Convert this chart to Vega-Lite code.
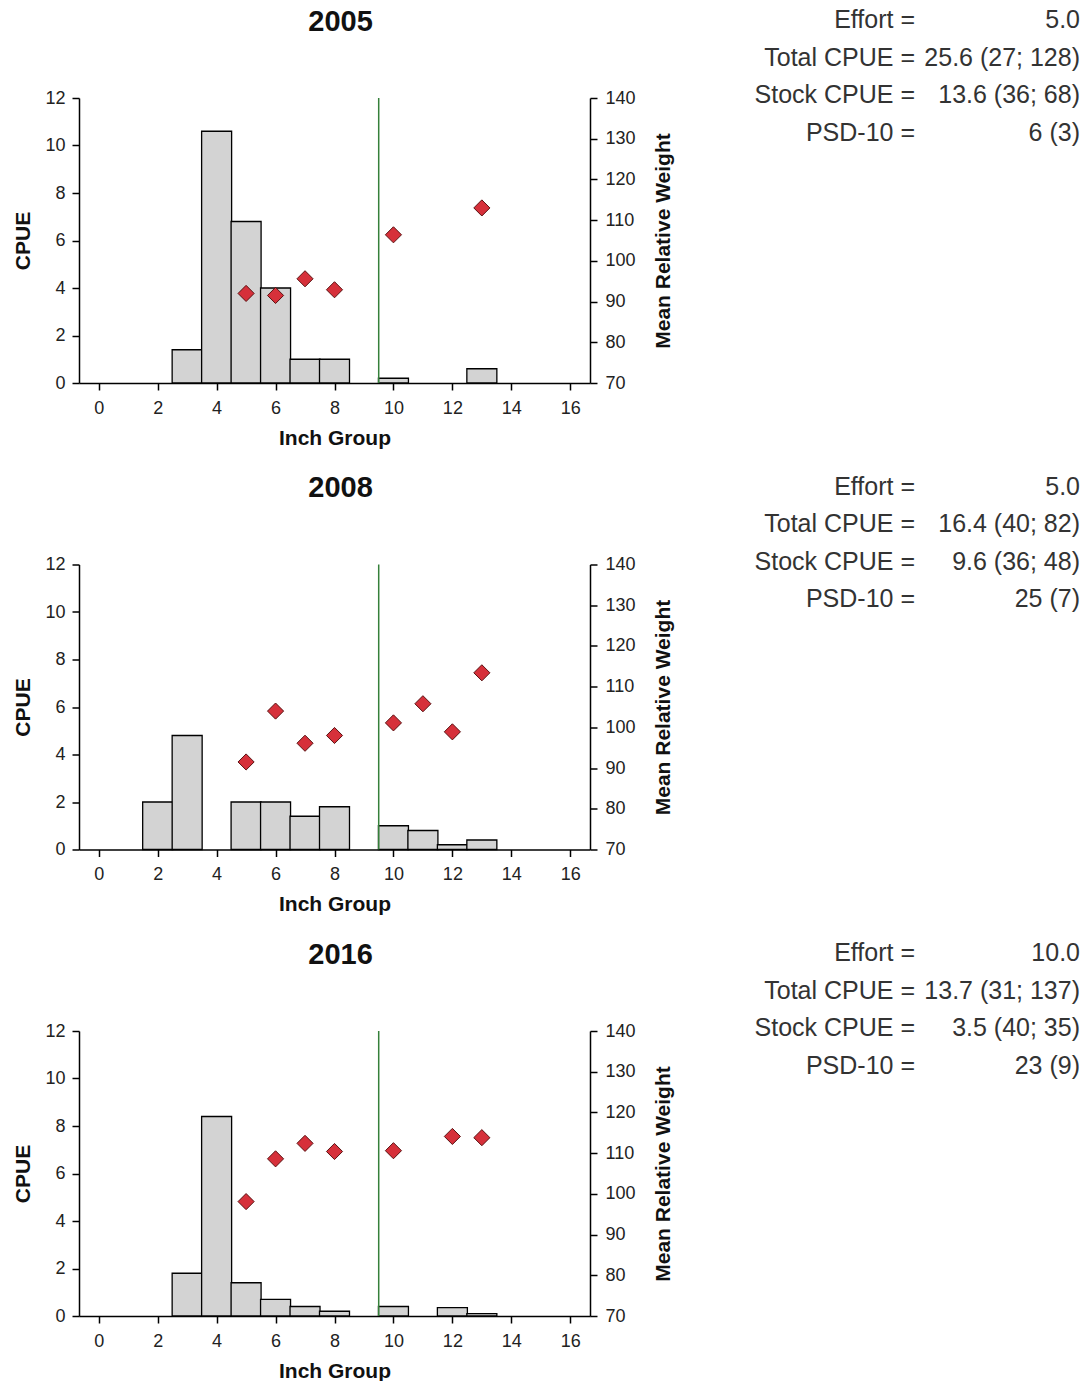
{
  "$schema": "https://vega.github.io/schema/vega-lite/v6.json",
  "background": "white",
  "padding": {"left": 12, "top": 6.5, "right": 0, "bottom": 0},
  "datasets": {
    "bars": [
      {"year": 2005, "inch": 3, "cpue": 1.4},
      {"year": 2005, "inch": 4, "cpue": 10.6},
      {"year": 2005, "inch": 5, "cpue": 6.8},
      {"year": 2005, "inch": 6, "cpue": 4.0},
      {"year": 2005, "inch": 7, "cpue": 1.0},
      {"year": 2005, "inch": 8, "cpue": 1.0},
      {"year": 2005, "inch": 10, "cpue": 0.2},
      {"year": 2005, "inch": 13, "cpue": 0.6},
      {"year": 2008, "inch": 2, "cpue": 2.0},
      {"year": 2008, "inch": 3, "cpue": 4.8},
      {"year": 2008, "inch": 5, "cpue": 2.0},
      {"year": 2008, "inch": 6, "cpue": 2.0},
      {"year": 2008, "inch": 7, "cpue": 1.4},
      {"year": 2008, "inch": 8, "cpue": 1.8},
      {"year": 2008, "inch": 10, "cpue": 1.0},
      {"year": 2008, "inch": 11, "cpue": 0.8},
      {"year": 2008, "inch": 12, "cpue": 0.2},
      {"year": 2008, "inch": 13, "cpue": 0.4},
      {"year": 2016, "inch": 3, "cpue": 1.8},
      {"year": 2016, "inch": 4, "cpue": 8.4},
      {"year": 2016, "inch": 5, "cpue": 1.4},
      {"year": 2016, "inch": 6, "cpue": 0.7},
      {"year": 2016, "inch": 7, "cpue": 0.4},
      {"year": 2016, "inch": 8, "cpue": 0.2},
      {"year": 2016, "inch": 10, "cpue": 0.4},
      {"year": 2016, "inch": 12, "cpue": 0.35},
      {"year": 2016, "inch": 13, "cpue": 0.1}
    ],
    "weights": [
      {"year": 2005, "inch": 5, "weight": 92.0},
      {"year": 2005, "inch": 6, "weight": 91.5},
      {"year": 2005, "inch": 7, "weight": 95.6},
      {"year": 2005, "inch": 8, "weight": 92.9},
      {"year": 2005, "inch": 10, "weight": 106.4},
      {"year": 2005, "inch": 13, "weight": 113.0},
      {"year": 2008, "inch": 5, "weight": 91.5},
      {"year": 2008, "inch": 6, "weight": 104.0},
      {"year": 2008, "inch": 7, "weight": 96.1},
      {"year": 2008, "inch": 8, "weight": 98.0},
      {"year": 2008, "inch": 10, "weight": 101.1},
      {"year": 2008, "inch": 11, "weight": 105.8},
      {"year": 2008, "inch": 12, "weight": 98.9},
      {"year": 2008, "inch": 13, "weight": 113.4},
      {"year": 2016, "inch": 5, "weight": 98.1},
      {"year": 2016, "inch": 6, "weight": 108.6},
      {"year": 2016, "inch": 7, "weight": 112.4},
      {"year": 2016, "inch": 8, "weight": 110.4},
      {"year": 2016, "inch": 10, "weight": 110.6},
      {"year": 2016, "inch": 12, "weight": 114.1},
      {"year": 2016, "inch": 13, "weight": 113.8}
    ],
    "stats": [
      {"year": 2005, "label": "Effort =", "value": "5.0"},
      {"year": 2005, "label": "Total CPUE =", "value": "25.6 (27; 128)"},
      {"year": 2005, "label": "Stock CPUE =", "value": "13.6 (36; 68)"},
      {"year": 2005, "label": "PSD-10 =", "value": "6 (3)"},
      {"year": 2008, "label": "Effort =", "value": "5.0"},
      {"year": 2008, "label": "Total CPUE =", "value": "16.4 (40; 82)"},
      {"year": 2008, "label": "Stock CPUE =", "value": "9.6 (36; 48)"},
      {"year": 2008, "label": "PSD-10 =", "value": "25 (7)"},
      {"year": 2016, "label": "Effort =", "value": "10.0"},
      {"year": 2016, "label": "Total CPUE =", "value": "13.7 (31; 137)"},
      {"year": 2016, "label": "Stock CPUE =", "value": "3.5 (40; 35)"},
      {"year": 2016, "label": "PSD-10 =", "value": "23 (9)"}
    ],
    "panels": [{"year": 2005}, {"year": 2008}, {"year": 2016}],
    "ref": [{"inch": 9.5}]
  },
  "vconcat": [
    {
      "spacing": 80,
      "hconcat": [
        {
          "spacing": 52.5,
          "vconcat": [
            {
              "width": 511, "height": 30,
              "data": {"name": "panels"}, "transform": [{"filter": "datum.year == 2005"}],
              "mark": {"type": "text", "align": "center", "baseline": "middle", "fontSize": 29, "fontWeight": "bold", "color": "#111", "dx": 6},
              "encoding": {"text": {"field": "year", "type": "nominal"}}
            },
            {
              "width": 511, "height": 285,
              "layer": [
                {"data": {"name": "bars"}, "transform": [{"filter": "datum.year == 2005"}],
                 "mark": {"type": "bar", "width": 30, "fill": "#d3d3d3", "stroke": "#000", "strokeWidth": 1.3},
                 "encoding": {
                   "x": {"field": "inch", "type": "quantitative", "scale": {"domain": [-0.5, 16.5], "nice": false, "zero": false}, "axis": {"title": "Inch Group", "values": [0, 2, 4, 6, 8, 10, 12, 14, 16], "labelFlush": false, "labelPadding": 9}},
                   "y": {"field": "cpue", "type": "quantitative", "scale": {"domain": [0, 12], "nice": false}, "axis": {"orient": "left", "title": "CPUE", "values": [0, 2, 4, 6, 8, 10, 12], "labelPadding": 7, "titlePadding": 11}}}},
                {"data": {"name": "ref"}, "mark": {"type": "rule", "color": "#35803a", "strokeWidth": 1.5},
                 "encoding": {"x": {"field": "inch", "type": "quantitative"}}},
                {"data": {"name": "weights"}, "transform": [{"filter": "datum.year == 2005"}],
                 "mark": {"type": "point", "shape": "diamond", "filled": true, "size": 260, "fill": "#d6303a", "stroke": "#5a1212", "strokeWidth": 1, "opacity": 1},
                 "encoding": {
                   "x": {"field": "inch", "type": "quantitative"},
                   "y": {"field": "weight", "type": "quantitative", "scale": {"domain": [70, 140], "nice": false, "zero": false}, "axis": {"orient": "right", "title": "Mean Relative Weight", "values": [70, 80, 90, 100, 110, 120, 130, 140], "titleAngle": 270, "titleBaseline": "top", "labelPadding": 8, "titlePadding": 17.5}}}}
              ],
              "resolve": {"scale": {"y": "independent"}, "axis": {"y": "independent"}}
            }
          ]
        },
        {
          "width": 165, "height": 139.5,
          "data": {"name": "stats"}, "transform": [{"filter": "datum.year == 2005"}],
          "encoding": {"y": {"field": "label", "type": "nominal", "sort": null, "scale": {"type": "point", "padding": 0.36}, "axis": null}},
          "layer": [
            {"mark": {"type": "text", "align": "right", "baseline": "middle", "fontSize": 25, "color": "#333"},
             "encoding": {"x": {"datum": "label", "type": "nominal", "scale": {"type": "point", "domain": ["label", "value"], "padding": 0}, "axis": null}, "text": {"field": "label"}}},
            {"mark": {"type": "text", "align": "right", "baseline": "middle", "fontSize": 25, "color": "#333"},
             "encoding": {"x": {"datum": "value", "type": "nominal"}, "text": {"field": "value"}}}
          ]
        }
      ]
    },
    {
      "spacing": 80,
      "hconcat": [
        {
          "spacing": 52.5,
          "vconcat": [
            {
              "width": 511, "height": 30,
              "data": {"name": "panels"}, "transform": [{"filter": "datum.year == 2008"}],
              "mark": {"type": "text", "align": "center", "baseline": "middle", "fontSize": 29, "fontWeight": "bold", "color": "#111", "dx": 6},
              "encoding": {"text": {"field": "year", "type": "nominal"}}
            },
            {
              "width": 511, "height": 285,
              "layer": [
                {"data": {"name": "bars"}, "transform": [{"filter": "datum.year == 2008"}],
                 "mark": {"type": "bar", "width": 30, "fill": "#d3d3d3", "stroke": "#000", "strokeWidth": 1.3},
                 "encoding": {
                   "x": {"field": "inch", "type": "quantitative", "scale": {"domain": [-0.5, 16.5], "nice": false, "zero": false}, "axis": {"title": "Inch Group", "values": [0, 2, 4, 6, 8, 10, 12, 14, 16], "labelFlush": false, "labelPadding": 9}},
                   "y": {"field": "cpue", "type": "quantitative", "scale": {"domain": [0, 12], "nice": false}, "axis": {"orient": "left", "title": "CPUE", "values": [0, 2, 4, 6, 8, 10, 12], "labelPadding": 7, "titlePadding": 11}}}},
                {"data": {"name": "ref"}, "mark": {"type": "rule", "color": "#35803a", "strokeWidth": 1.5},
                 "encoding": {"x": {"field": "inch", "type": "quantitative"}}},
                {"data": {"name": "weights"}, "transform": [{"filter": "datum.year == 2008"}],
                 "mark": {"type": "point", "shape": "diamond", "filled": true, "size": 260, "fill": "#d6303a", "stroke": "#5a1212", "strokeWidth": 1, "opacity": 1},
                 "encoding": {
                   "x": {"field": "inch", "type": "quantitative"},
                   "y": {"field": "weight", "type": "quantitative", "scale": {"domain": [70, 140], "nice": false, "zero": false}, "axis": {"orient": "right", "title": "Mean Relative Weight", "values": [70, 80, 90, 100, 110, 120, 130, 140], "titleAngle": 270, "titleBaseline": "top", "labelPadding": 8, "titlePadding": 17.5}}}}
              ],
              "resolve": {"scale": {"y": "independent"}, "axis": {"y": "independent"}}
            }
          ]
        },
        {
          "width": 165, "height": 139.5,
          "data": {"name": "stats"}, "transform": [{"filter": "datum.year == 2008"}],
          "encoding": {"y": {"field": "label", "type": "nominal", "sort": null, "scale": {"type": "point", "padding": 0.36}, "axis": null}},
          "layer": [
            {"mark": {"type": "text", "align": "right", "baseline": "middle", "fontSize": 25, "color": "#333"},
             "encoding": {"x": {"datum": "label", "type": "nominal", "scale": {"type": "point", "domain": ["label", "value"], "padding": 0}, "axis": null}, "text": {"field": "label"}}},
            {"mark": {"type": "text", "align": "right", "baseline": "middle", "fontSize": 25, "color": "#333"},
             "encoding": {"x": {"datum": "value", "type": "nominal"}, "text": {"field": "value"}}}
          ]
        }
      ]
    },
    {
      "spacing": 80,
      "hconcat": [
        {
          "spacing": 52.5,
          "vconcat": [
            {
              "width": 511, "height": 30,
              "data": {"name": "panels"}, "transform": [{"filter": "datum.year == 2016"}],
              "mark": {"type": "text", "align": "center", "baseline": "middle", "fontSize": 29, "fontWeight": "bold", "color": "#111", "dx": 6},
              "encoding": {"text": {"field": "year", "type": "nominal"}}
            },
            {
              "width": 511, "height": 285,
              "layer": [
                {"data": {"name": "bars"}, "transform": [{"filter": "datum.year == 2016"}],
                 "mark": {"type": "bar", "width": 30, "fill": "#d3d3d3", "stroke": "#000", "strokeWidth": 1.3},
                 "encoding": {
                   "x": {"field": "inch", "type": "quantitative", "scale": {"domain": [-0.5, 16.5], "nice": false, "zero": false}, "axis": {"title": "Inch Group", "values": [0, 2, 4, 6, 8, 10, 12, 14, 16], "labelFlush": false, "labelPadding": 9}},
                   "y": {"field": "cpue", "type": "quantitative", "scale": {"domain": [0, 12], "nice": false}, "axis": {"orient": "left", "title": "CPUE", "values": [0, 2, 4, 6, 8, 10, 12], "labelPadding": 7, "titlePadding": 11}}}},
                {"data": {"name": "ref"}, "mark": {"type": "rule", "color": "#35803a", "strokeWidth": 1.5},
                 "encoding": {"x": {"field": "inch", "type": "quantitative"}}},
                {"data": {"name": "weights"}, "transform": [{"filter": "datum.year == 2016"}],
                 "mark": {"type": "point", "shape": "diamond", "filled": true, "size": 260, "fill": "#d6303a", "stroke": "#5a1212", "strokeWidth": 1, "opacity": 1},
                 "encoding": {
                   "x": {"field": "inch", "type": "quantitative"},
                   "y": {"field": "weight", "type": "quantitative", "scale": {"domain": [70, 140], "nice": false, "zero": false}, "axis": {"orient": "right", "title": "Mean Relative Weight", "values": [70, 80, 90, 100, 110, 120, 130, 140], "titleAngle": 270, "titleBaseline": "top", "labelPadding": 8, "titlePadding": 17.5}}}}
              ],
              "resolve": {"scale": {"y": "independent"}, "axis": {"y": "independent"}}
            }
          ]
        },
        {
          "width": 165, "height": 139.5,
          "data": {"name": "stats"}, "transform": [{"filter": "datum.year == 2016"}],
          "encoding": {"y": {"field": "label", "type": "nominal", "sort": null, "scale": {"type": "point", "padding": 0.36}, "axis": null}},
          "layer": [
            {"mark": {"type": "text", "align": "right", "baseline": "middle", "fontSize": 25, "color": "#333"},
             "encoding": {"x": {"datum": "label", "type": "nominal", "scale": {"type": "point", "domain": ["label", "value"], "padding": 0}, "axis": null}, "text": {"field": "label"}}},
            {"mark": {"type": "text", "align": "right", "baseline": "middle", "fontSize": 25, "color": "#333"},
             "encoding": {"x": {"datum": "value", "type": "nominal"}, "text": {"field": "value"}}}
          ]
        }
      ]
    }
  ],
  "spacing": 24.5,
  "config": {
    "font": "Liberation Sans",
    "view": {"stroke": null},
    "axis": {
      "grid": false,
      "domainColor": "#000", "domainWidth": 1.5,
      "tickColor": "#000", "tickWidth": 1.5, "tickSize": 7,
      "labelFontSize": 18, "labelColor": "#222", "labelPadding": 5,
      "titleFontSize": 21, "titleFontWeight": "bold", "titleColor": "#111", "titlePadding": 10
    }
  }
}
